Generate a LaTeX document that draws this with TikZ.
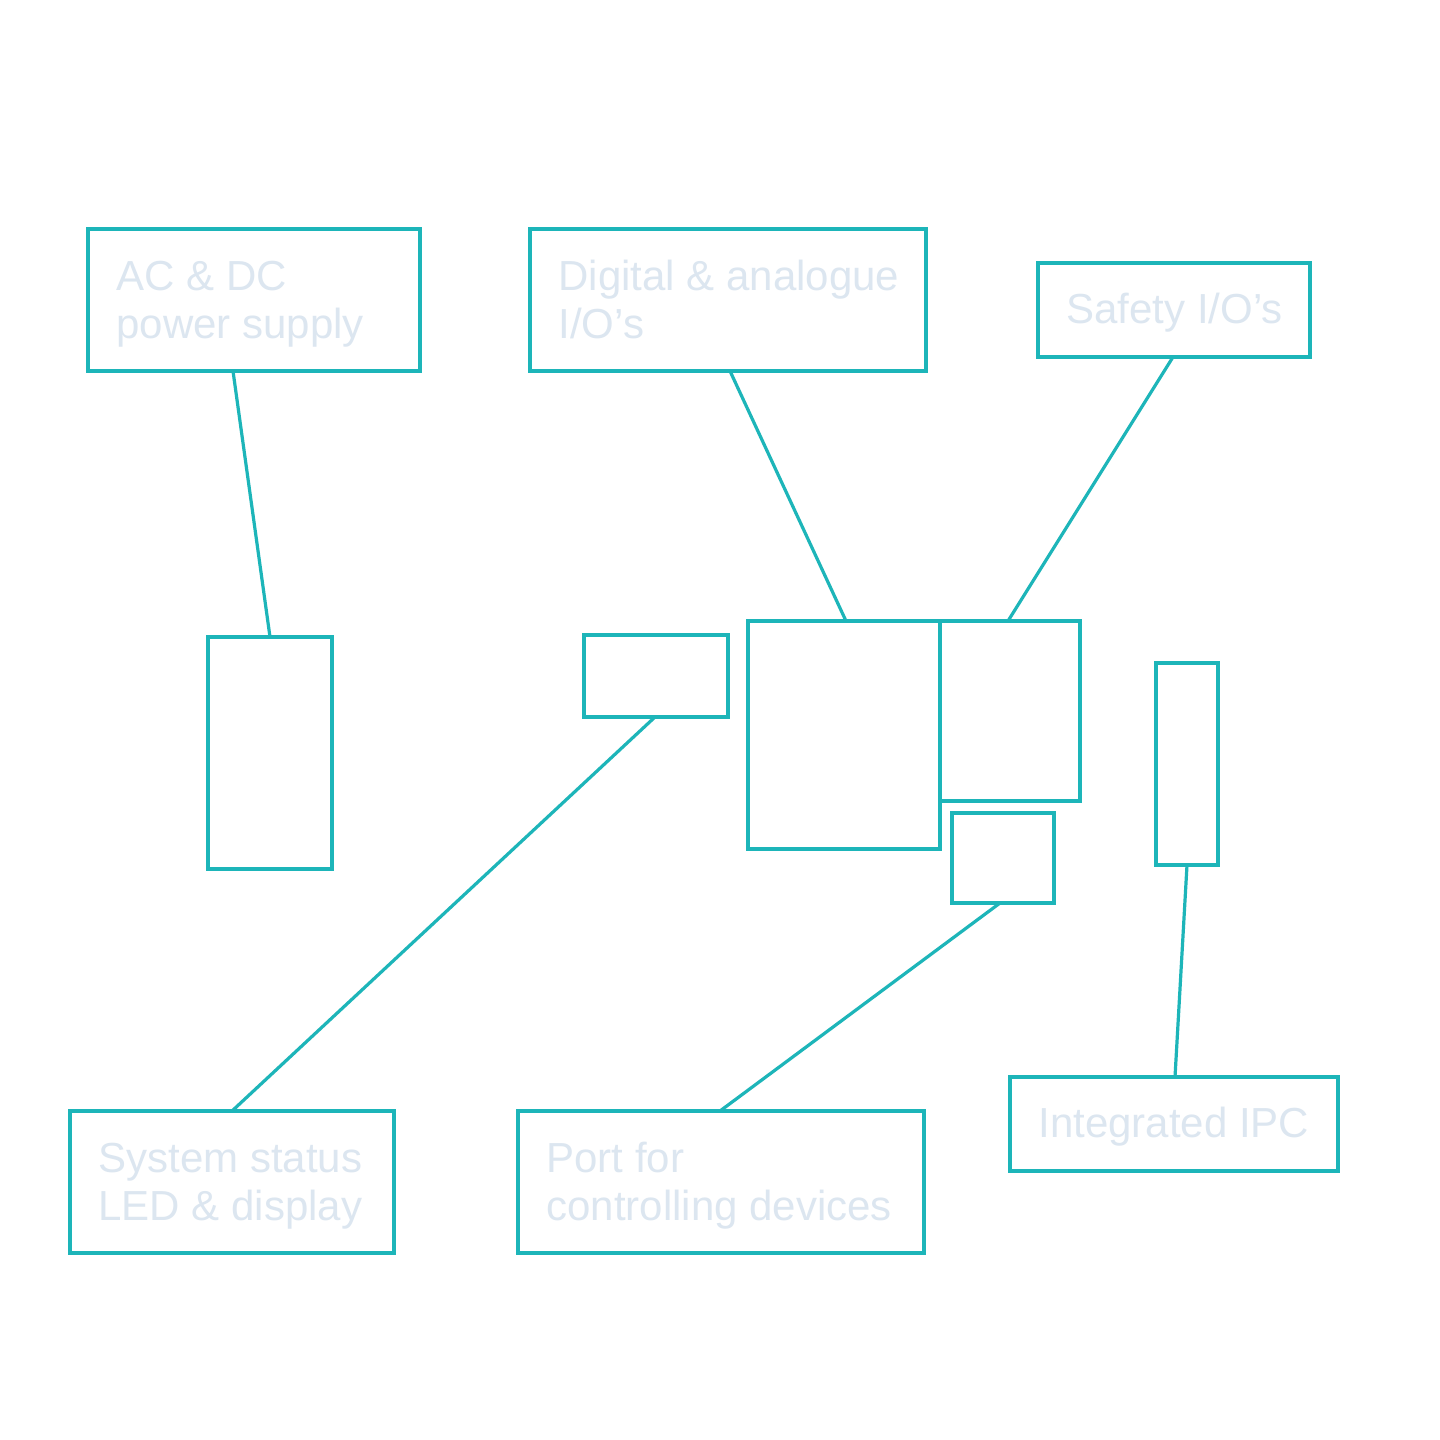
\documentclass[tikz,border=0pt]{standalone}
\usepackage{fontspec}
\setmainfont{Liberation Sans}
\definecolor{teal}{HTML}{1DB5B9}
\definecolor{lbl}{HTML}{DCE6F0}
\begin{document}
\begin{tikzpicture}[x=0.5pt,y=-0.5pt,
  box/.style={draw=teal,line width=1.7pt},
  conn/.style={draw=teal,line width=1.6pt},
  lab/.style={anchor=base west,inner sep=0pt,text=lbl,font=\fontsize{21}{24}\selectfont,align=left}]
\useasboundingbox[fill=white] (0,0) rectangle (1440,1440);
% boxes
\draw[box] (88,229) rectangle (420,371);
\draw[box] (530,229) rectangle (926,371);
\draw[box] (1038,263) rectangle (1310,357);
\draw[box] (208,637) rectangle (332,869);
\draw[box] (584,635) rectangle (728,717);
\draw[box] (748,621) rectangle (940,849);
\draw[box] (940,621) rectangle (1080,801);
\draw[box] (952,813) rectangle (1054,903);
\draw[box] (1156,663) rectangle (1218,865);
\draw[box] (70,1111) rectangle (394,1253);
\draw[box] (518,1111) rectangle (924,1253);
\draw[box] (1010,1077) rectangle (1338,1171);
% connector ends
\coordinate (acB) at (233,371);
\coordinate (psT) at (270,637);
\coordinate (dgB) at (730,371);
\coordinate (bigT) at (846,621);
\coordinate (sfB) at (1173,357);
\coordinate (rtT) at (1008,621);
\coordinate (smB) at (655,717);
\coordinate (ssT) at (232,1111);
\coordinate (sbB) at (1000,903);
\coordinate (ptT) at (720,1111);
\coordinate (nrB) at (1187,865);
\coordinate (ipT) at (1175,1077);
\draw[conn] (acB) -- (psT);
\draw[conn] (dgB) -- (bigT);
\draw[conn] (sfB) -- (rtT);
\draw[conn] (smB) -- (ssT);
\draw[conn] (sbB) -- (ptT);
\draw[conn] (nrB) -- (ipT);
% labels (anchor at baseline of last line)
\node[lab] (tac) at (116,338) {AC \& DC\\power supply};
\node[lab] (tdg) at (558,338) {Digital \& analogue\\I/O’s};
\node[lab] (tsf) at (1066,323) {Safety I/O’s};
\node[lab] (tss) at (98,1220) {System status\\LED \& display};
\node[lab] (tpt) at (546,1220) {Port for\\controlling devices};
\node[lab] (tip) at (1038,1137) {Integrated IPC};
\end{tikzpicture}
\end{document}
